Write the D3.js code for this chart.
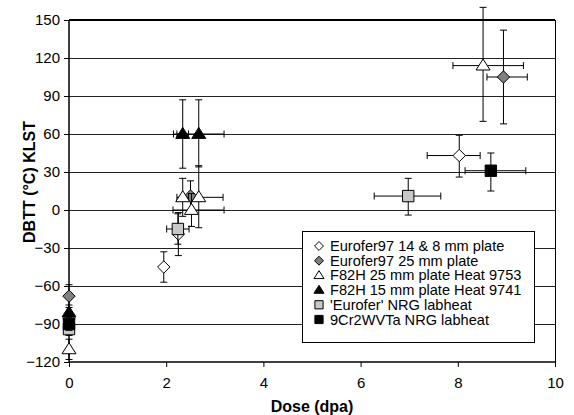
<!DOCTYPE html>
<html>
<head>
<meta charset="utf-8">
<script src="https://cdn.jsdelivr.net/npm/d3@7"></script>
<style>
  body { margin: 0; background: #fff; }
  svg { display: block; font-family: Arial, "Liberation Sans", sans-serif; }
</style>
</head>
<body>
<svg id="chart" width="574" height="415"></svg>
<script>
// rows: [dose, dbtt, xMinus, xPlus, yMinus, yPlus]
var eurofer97Thin = [
  [0, -86, 0, 0, 5, 5],
  [1.95, -45, 0, 0, 12, 12],
  [2.25, -19, 0, 0, 17, 17],
  [8.03, 43, 0.66, 0.43, 17, 16]
];
var eurofer97Thick = [
  [0, -68, 0, 0, 9, 9],
  [2.5, 11, 0, 0, 12, 12],
  [8.94, 105, 0.34, 0.49, 37, 37]
];
var f82h9753 = [
  [0, -110, 0, 0, 8, 8],
  [2.34, 10, 0.12, 0.12, 15, 15],
  [2.52, 0, 0.38, 0.67, 13, 13],
  [2.67, 10, 0, 0.5, 24, 25],
  [8.52, 114, 0.62, 0.83, 44, 46]
];
var f82h9741 = [
  [0, -81, 0, 0, 6, 6],
  [2.34, 60, 0.12, 0.12, 27, 27],
  [2.67, 60, 0.52, 0.52, 26, 27]
];
var euroferNrg = [
  [0, -94, 0, 0, 5, 5],
  [2.24, -15, 0.23, 0.23, 12, 12],
  [6.98, 11, 0.7, 0.67, 15, 14]
];
var cr9Nrg = [
  [0, -90, 0, 0, 5, 5],
  [8.68, 31, 0.53, 0.72, 16, 14]
];

var seriesNames = [
  "Eurofer97 14 & 8 mm plate",
  "Eurofer97 25 mm plate",
  "F82H 25 mm plate Heat 9753",
  "F82H 15 mm plate Heat 9741",
  "'Eurofer' NRG labheat",
  "9Cr2WVTa NRG labheat"
];
var xTicks = [0, 2, 4, 6, 8, 10];
var yTicks = [-120, -90, -60, -30, 0, 30, 60, 90, 120, 150];

var series = [
  {name: seriesNames[0], rows: eurofer97Thin, shape: "diamond", fill: "#fff"},
  {name: seriesNames[1], rows: eurofer97Thick, shape: "diamond", fill: "#808080"},
  {name: seriesNames[2], rows: f82h9753, shape: "triangle", fill: "#fff"},
  {name: seriesNames[3], rows: f82h9741, shape: "triangle", fill: "#000"},
  {name: seriesNames[4], rows: euroferNrg, shape: "square", fill: "#c8c8c8"},
  {name: seriesNames[5], rows: cr9Nrg, shape: "square", fill: "#000"}
];

var plotL = 69, plotR = 555, plotT = 20, plotB = 362;
var svg = d3.select("#chart");

var x = d3.scaleLinear().domain([0, 10]).range([plotL, plotR]);
var y = d3.scaleLinear().domain([-120, 150]).range([plotB, plotT]);

function shapePath(shape, k) {
  if (shape === "diamond") {
    var r = 6.2 * k;
    return "M0," + (-r) + "L" + r + ",0L0," + r + "L" + (-r) + ",0Z";
  }
  if (shape === "triangle") {
    var w = 7 * k, h = 11 * k;
    return "M0," + (-h * 0.6) + "L" + w + "," + (h * 0.4) + "L" + (-w) + "," + (h * 0.4) + "Z";
  }
  var s = 5.7 * k;
  return "M" + (-s) + "," + (-s) + "H" + s + "V" + s + "H" + (-s) + "Z";
}

// grid lines (snapped to pixel centres so they stay dark)
svg.append("g")
  .selectAll("line")
  .data(yTicks.filter(function(d) { return d > -120 && d < 150; }))
  .join("line")
    .attr("x1", plotL).attr("x2", plotR)
    .attr("y1", function(d) { return Math.round(y(d)) + 0.5; })
    .attr("y2", function(d) { return Math.round(y(d)) + 0.5; })
    .attr("stroke", "#222")
    .attr("stroke-width", 1);

// frame: top and right
svg.append("line")
  .attr("x1", plotL).attr("x2", plotR).attr("y1", plotT).attr("y2", plotT)
  .attr("stroke", "#000").attr("stroke-width", 2);
svg.append("line")
  .attr("x1", plotR + 0.5).attr("x2", plotR + 0.5).attr("y1", plotT).attr("y2", plotB)
  .attr("stroke", "#000").attr("stroke-width", 1);

// axes
var yAxis = d3.axisLeft(y).tickValues(yTicks).tickSize(5).tickPadding(4);
var gy = svg.append("g").attr("transform", "translate(" + plotL + ",0)").call(yAxis);
var xAxis = d3.axisBottom(x).tickValues(xTicks).tickSize(5).tickPadding(10);
var gx = svg.append("g").attr("transform", "translate(0," + plotB + ")").call(xAxis);

[gx, gy].forEach(function(g) {
  g.select(".domain").attr("stroke", "#000").attr("stroke-width", 1.5);
  g.selectAll(".tick line").attr("stroke", "#000");
  g.selectAll(".tick text")
    .attr("font-size", 15)
    .attr("font-family", "Arial, 'Liberation Sans', sans-serif")
    .attr("fill", "#000");
});
gx.select(".domain").attr("d", "M" + plotL + ",0H" + plotR);
gy.select(".domain").attr("d", "M0," + plotT + "V" + plotB);

// axis titles
svg.append("text")
  .attr("x", 312).attr("y", 412)
  .attr("text-anchor", "middle")
  .attr("font-weight", "bold")
  .attr("font-size", 16)
  .text("Dose (dpa)");
svg.append("text")
  .attr("transform", "translate(35,182) rotate(-90)")
  .attr("text-anchor", "middle")
  .attr("font-weight", "bold")
  .attr("font-size", 16)
  .text("DBTT (\u00B0C) KLST");

// error bars + markers
var cap = 3.5;
series.forEach(function(s) {
  var g = svg.append("g");
  var eb = g.selectAll("g.err").data(s.rows).join("g").attr("class", "err")
    .attr("stroke", "#000").attr("stroke-width", 1).attr("fill", "none");
  eb.append("path")
    .attr("d", function(d) {
      var p = "M" + x(d[0]) + "," + y(d[1] + d[5]) + "V" + y(d[1] - d[4]) +
        "M" + (x(d[0]) - cap) + "," + y(d[1] + d[5]) + "h" + 2 * cap +
        "M" + (x(d[0]) - cap) + "," + y(d[1] - d[4]) + "h" + 2 * cap;
      if (d[2] > 0 || d[3] > 0) {
        p += "M" + x(d[0] - d[2]) + "," + y(d[1]) + "H" + x(d[0] + d[3]);
        if (d[2] > 0) p += "M" + x(d[0] - d[2]) + "," + (y(d[1]) - cap) + "v" + 2 * cap;
        if (d[3] > 0) p += "M" + x(d[0] + d[3]) + "," + (y(d[1]) - cap) + "v" + 2 * cap;
      }
      return p;
    });
  g.selectAll("path.mark").data(s.rows).join("path").attr("class", "mark")
    .attr("d", shapePath(s.shape, 1))
    .attr("transform", function(d) { return "translate(" + x(d[0]) + "," + y(d[1]) + ")"; })
    .attr("fill", s.fill)
    .attr("stroke", "#000")
    .attr("stroke-width", 1);
});

// legend
var legX = 302, legY = 231, legW = 232, legH = 111;
var leg = svg.append("g");
leg.append("rect")
  .attr("x", legX + 0.5).attr("y", legY + 0.5).attr("width", legW).attr("height", legH)
  .attr("fill", "#fff").attr("stroke", "#000").attr("stroke-width", 1);
var items = leg.selectAll("g.item").data(series).join("g").attr("class", "item")
  .attr("transform", function(d, i) { return "translate(" + (legX + 17) + "," + (legY + 15 + i * 14.7) + ")"; });
items.append("path")
  .attr("d", function(d) { return shapePath(d.shape, 0.72); })
  .attr("fill", function(d) { return d.fill; })
  .attr("stroke", "#000")
  .attr("stroke-width", 1);
items.append("text")
  .attr("x", 11).attr("y", 5)
  .attr("font-size", 14.6)
  .text(function(d) { return d.name; });
</script>
</body>
</html>
